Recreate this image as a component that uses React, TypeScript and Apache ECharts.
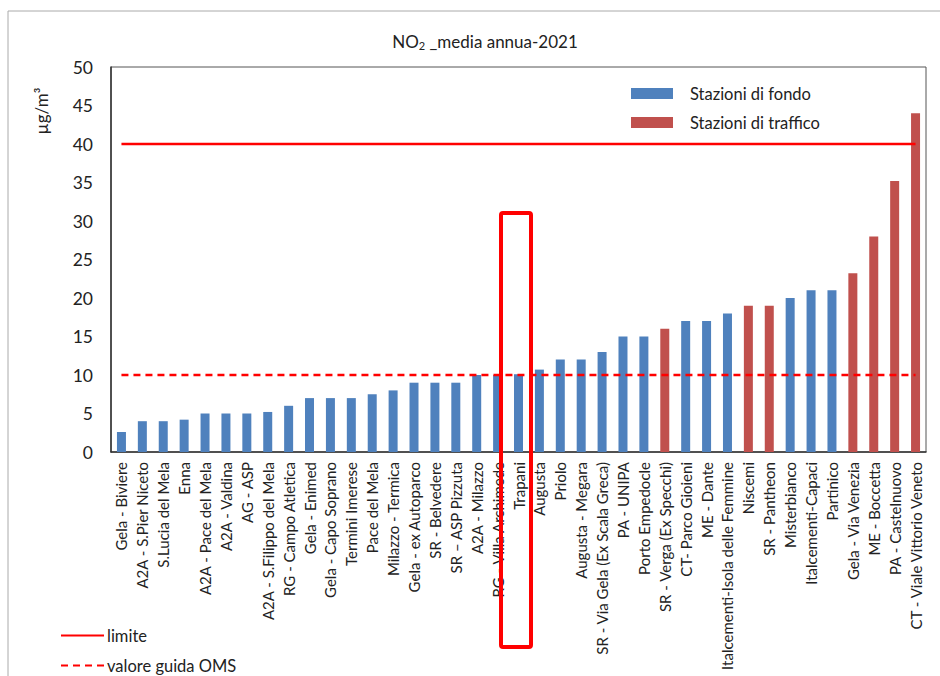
import React, { useEffect, useRef } from "react";
import * as echarts from "echarts";

const categories = [
  "Gela - Biviere",
  "A2A - S.Pier Niceto",
  "S.Lucia del Mela",
  "Enna",
  "A2A - Pace del Mela",
  "A2A - Valdina",
  "AG - ASP",
  "A2A - S.Filippo del Mela",
  "RG - Campo Atletica",
  "Gela - Enimed",
  "Gela - Capo Soprano",
  "Termini Imerese",
  "Pace del Mela",
  "Milazzo - Termica",
  "Gela - ex Autoparco",
  "SR - Belvedere",
  "SR \u2013 ASP Pizzuta",
  "A2A - Milazzo",
  "RG - Villa Archimede",
  "Trapani",
  "Augusta",
  "Priolo",
  "Augusta - Megara",
  "SR - Via Gela (Ex Scala Greca)",
  "PA - UNIPA",
  "Porto Empedocle",
  "SR - Verga (Ex Specchi)",
  "CT- Parco Gioieni",
  "ME - Dante",
  "Italcementi-Isola delle Femmine",
  "Niscemi",
  "SR - Pantheon",
  "Misterbianco",
  "Italcementi-Capaci",
  "Partinico",
  "Gela - Via Venezia",
  "ME - Boccetta",
  "PA - Castelnuovo",
  "CT - Viale Vittorio Veneto",
];

// null where the station belongs to the other group
const fondoValues = [
  2.6, 4.0, 4.0, 4.2, 5.0, 5.0, 5.0, 5.2, 6.0, 7.0, 7.0, 7.0, 7.5, 8.0, 9.0, 9.0, 9.0, 10.0, 10.0, 10.1,
  10.7, 12.0, 12.0, 13.0, 15.0, 15.0, null, 17.0, 17.0, 18.0, null, null, 20.0, 21.0, 21.0, null, null, null, null,
];
const trafficoValues = [
  null, null, null, null, null, null, null, null, null, null, null, null, null, null, null, null, null, null, null, null,
  null, null, null, null, null, null, 16.0, null, null, null, 19.0, 19.0, null, null, null, 23.2, 28.0, 35.2, 44.0,
];

const LIMITE = 40;
const VALORE_GUIDA_OMS = 10;
const yTicks = { min: 0, max: 50, interval: 5 };

const FONT = "Lato, 'Open Sans', sans-serif";
const BLUE = "#4F81BD";
const RED_BAR = "#C0504D";
const RED = "#FF0000";

export default function App() {
  const ref = useRef<HTMLDivElement>(null);

  useEffect(() => {
    if (!ref.current) return;
    const chart = echarts.init(ref.current, undefined, { renderer: "svg" });
    const limiteData = categories.map(() => LIMITE);
    const omsData = categories.map(() => VALORE_GUIDA_OMS);

    const lineLegend = (name: string, top: number) => ({
      data: [name],
      orient: "horizontal",
      left: 55,
      top,
      itemWidth: 43,
      itemHeight: 12,
      itemGap: 4,
      itemStyle: { opacity: 0 },
      textStyle: { fontFamily: FONT, fontSize: 16.5, color: "#222", padding: [0, 0, 0, -2] },
    });

    chart.setOption({
      animation: false,
      backgroundColor: "#ffffff",
      textStyle: { fontFamily: FONT },
      title: {
        text: "NO{sub|2} _media annua-2021",
        left: 480,
        textAlign: "center",
        top: 26,
        textStyle: {
          fontFamily: FONT,
          fontSize: 17,
          fontWeight: "normal",
          color: "#222",
          rich: {
            sub: { fontSize: 11, verticalAlign: "bottom", padding: [9, 0, 0, 0], color: "#222", fontFamily: FONT },
          },
        },
      },
      legend: [
        {
          data: ["Stazioni di fondo", "Stazioni di traffico"],
          orient: "vertical",
          left: 626,
          top: 80,
          itemWidth: 42,
          itemHeight: 11,
          itemGap: 12,
          icon: "rect",
          textStyle: { fontFamily: FONT, fontSize: 16.5, color: "#222", padding: [0, 0, 0, 12] },
        },
        lineLegend("limite", 622),
        lineLegend("valore guida OMS", 652),
      ],
      grid: { left: 111, top: 67, right: 14, bottom: 224, show: true, borderColor: "#555", borderWidth: 1 },
      xAxis: {
        type: "category",
        data: categories,
        axisTick: { show: false },
        axisLine: { lineStyle: { color: "#333", width: 1.5 } },
        axisLabel: { interval: 0, rotate: 90, fontSize: 15, color: "#222", margin: 10, fontFamily: FONT },
      },
      yAxis: {
        type: "value",
        min: yTicks.min,
        max: yTicks.max,
        interval: yTicks.interval,
        splitLine: { show: false },
        axisTick: { show: false },
        axisLine: { show: true, lineStyle: { color: "#333", width: 1.5 } },
        axisLabel: { fontSize: 17.5, color: "#222", margin: 18, fontFamily: FONT },
      },
      series: [
        {
          name: "Stazioni di fondo",
          type: "bar",
          stack: "st",
          data: fondoValues,
          barWidth: 9,
          itemStyle: { color: BLUE },
        },
        {
          name: "Stazioni di traffico",
          type: "bar",
          stack: "st",
          data: trafficoValues,
          barWidth: 9,
          itemStyle: { color: RED_BAR },
        },
        {
          name: "limite",
          type: "line",
          data: limiteData,
          symbol: "none",
          lineStyle: { color: RED, width: 2.5 },
          itemStyle: { color: RED },
          z: 5,
        },
        {
          name: "valore guida OMS",
          type: "line",
          data: omsData,
          symbol: "none",
          lineStyle: { color: RED, width: 2.5, type: [7, 5] },
          itemStyle: { color: RED },
          z: 5,
        },
      ],
      graphic: [
        { type: "line", shape: { x1: 8, y1: 11, x2: 940, y2: 11 }, style: { stroke: "#aaaaaa", lineWidth: 1 } },
        { type: "line", shape: { x1: 8, y1: 11, x2: 8, y2: 676 }, style: { stroke: "#aaaaaa", lineWidth: 1 } },
        {
          type: "text",
          x: 41,
          y: 111,
          rotation: Math.PI / 2,
          style: {
            text: "\u00b5g/m\u00b3",
            fontFamily: FONT,
            fontSize: 17,
            fill: "#222",
            textAlign: "center",
            textVerticalAlign: "middle",
          },
        },
        {
          type: "rect",
          shape: { x: 501, y: 213, width: 30, height: 434, r: 2 },
          style: { fill: "none", stroke: RED, lineWidth: 4 },
          z: 100,
        },
      ],
    });
    return () => chart.dispose();
  }, []);

  return <div ref={ref} style={{ position: "fixed", left: 0, top: 0, width: 940, height: 676 }} />;
}
